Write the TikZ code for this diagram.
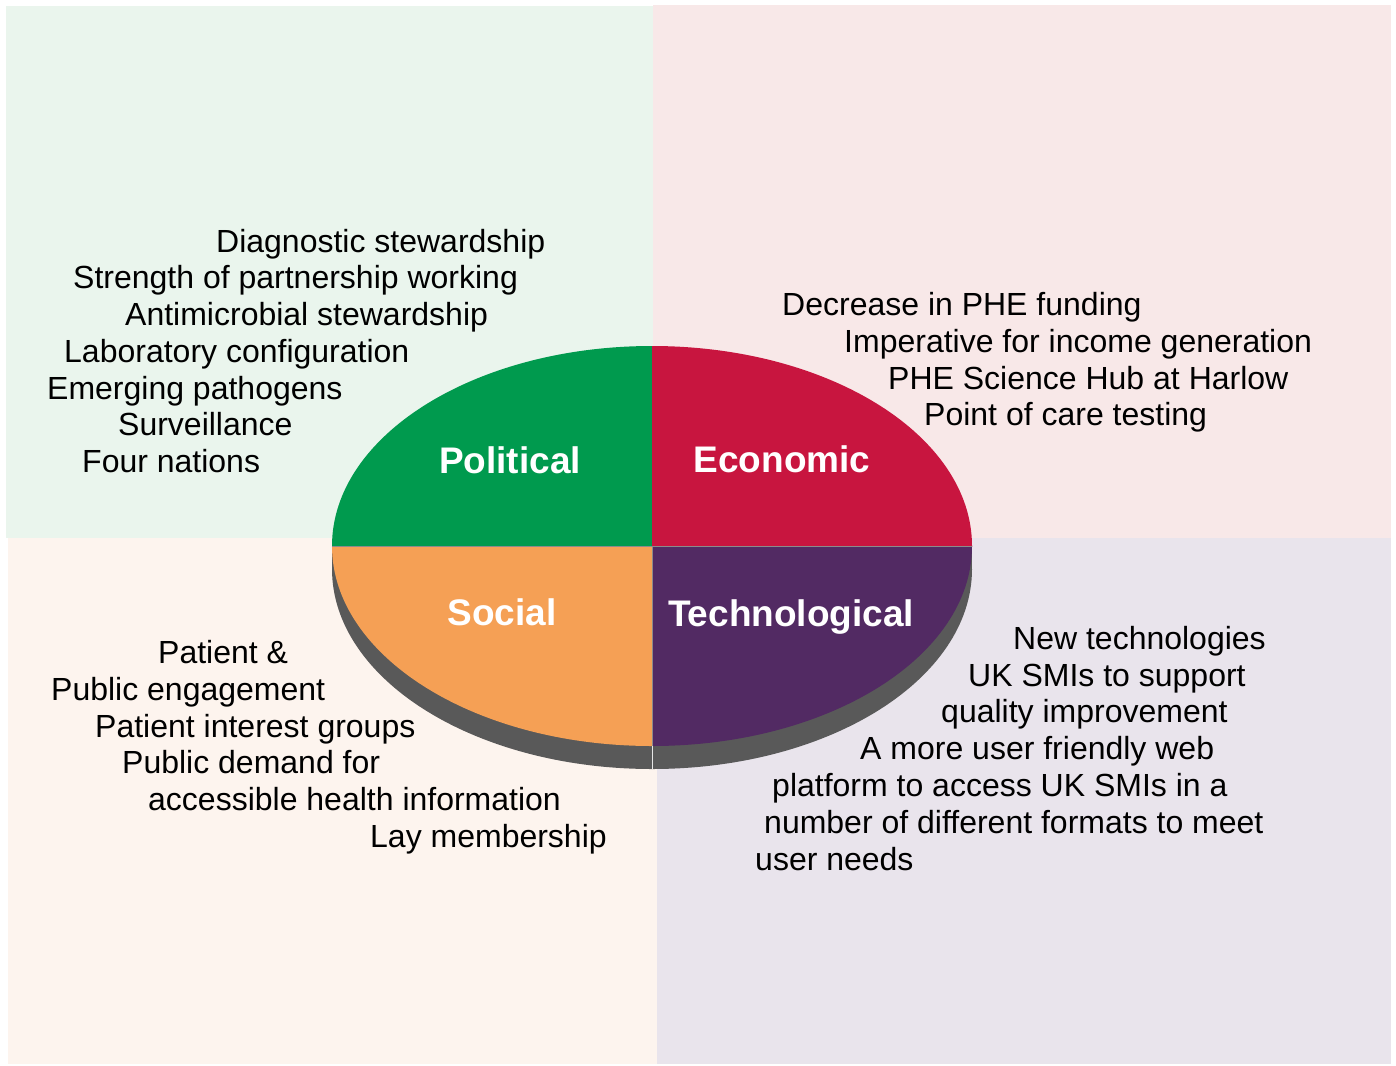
\documentclass[tikz,border=0pt]{standalone}
\usepackage{fontspec}
\setmainfont{Liberation Sans}
\definecolor{bggreen}{RGB}{234,245,237}
\definecolor{bgpink}{RGB}{248,232,232}
\definecolor{bgcream}{RGB}{253,244,238}
\definecolor{bglav}{RGB}{233,228,236}
\definecolor{pgreen}{RGB}{0,154,78}
\definecolor{pred}{RGB}{200,21,63}
\definecolor{porange}{RGB}{245,160,85}
\definecolor{ppurple}{RGB}{82,42,99}
\definecolor{pgray}{RGB}{89,89,89}
\newcommand{\itemfont}{\fontsize{32}{36.7}\selectfont}
\newcommand{\labfont}{\fontsize{37}{44}\selectfont\bfseries}
\begin{document}
\begin{tikzpicture}[x=1pt,y=-1pt,
  itm/.style={anchor=base west, font=\itemfont, inner sep=0pt, text=black},
  lab/.style={anchor=base, font=\labfont, inner sep=0pt, text=white}]
\useasboundingbox (0,0) rectangle (1396,1065);
\fill[white] (0,0) rectangle (1396,1065);
% background quadrants
\fill[bggreen] (6,6) rectangle (653,538);
\fill[bgpink] (653,5) rectangle (1391,538);
\fill[bgcream] (8,538) rectangle (657,1064);
\fill[bglav] (657,538) rectangle (1391,1064);
% extrusion
\begin{scope}
\clip (300,569) rectangle (1000,800);
\fill[pgray] (652,569) ellipse [x radius=320, y radius=200];
\end{scope}
\fill[pgray] (332,546) rectangle (972,569);
% top face quadrants
\begin{scope}
\clip (332,346) rectangle (652,546);
\fill[pgreen] (652,546) ellipse [x radius=320, y radius=200];
\end{scope}
\begin{scope}
\clip (652,346) rectangle (972,546);
\fill[pred] (652,546) ellipse [x radius=320, y radius=200];
\end{scope}
\begin{scope}
\clip (332,546) rectangle (652,746);
\fill[porange] (652,546) ellipse [x radius=320, y radius=200];
\end{scope}
\begin{scope}
\clip (652,546) rectangle (972,746);
\fill[ppurple] (652,546) ellipse [x radius=320, y radius=200];
\end{scope}
\coordinate (splitL) at (332,546);
\coordinate (splitR) at (972,546);
\coordinate (midB) at (652,746);
\coordinate (midE) at (652,769);
\coordinate (midC) at (652,546);
\draw[pgray!70, line width=0.8pt] (splitL) -- (splitR);
\draw[pgray!70, line width=0.8pt] (midC) -- (midB);
\draw[white!85!pgray, line width=0.8pt] (midB) -- (midE);
% labels
\node[lab] (pol) at (510,473) {Political};
\node[lab] (eco) at (782,472) {Economic};
\node[lab] (soc) at (502,625) {Social};
\node[lab] (tec) at (791,626) {Technological};
% political items
\node[itm] (p1) at (216,252) {Diagnostic stewardship};
\node[itm] (p2) at (73,288) {Strength of partnership working};
\node[itm] (p3) at (125,325) {Antimicrobial stewardship};
\node[itm] (p4) at (64,362) {Laboratory configuration};
\node[itm] (p5) at (47,399) {Emerging pathogens};
\node[itm] (p6) at (118,435) {Surveillance};
\node[itm] (p7) at (82,472) {Four nations};
% economic items
\node[itm] (e1) at (782,315) {Decrease in PHE funding};
\node[itm] (e2) at (844,352) {Imperative for income generation};
\node[itm] (e3) at (888,389) {PHE Science Hub at Harlow};
\node[itm] (e4) at (924,425) {Point of care testing};
% social items
\node[itm] (s1) at (158,663) {Patient \&};
\node[itm] (s2) at (51,700) {Public engagement};
\node[itm] (s3) at (95,737) {Patient interest groups};
\node[itm] (s4) at (122,773) {Public demand for};
\node[itm] (s5) at (148,810) {accessible health information};
\node[itm] (s6) at (370,847) {Lay membership};
% technological items
\node[itm] (t1) at (1013,649) {New technologies};
\node[itm] (t2) at (968,686) {UK SMIs to support};
\node[itm] (t3) at (941,722) {quality improvement};
\node[itm] (t4) at (860,759) {A more user friendly web};
\node[itm] (t5) at (772,796) {platform to access UK SMIs in a};
\node[itm] (t6) at (764,833) {number of different formats to meet};
\node[itm] (t7) at (755,870) {user needs};
\end{tikzpicture}
\end{document}
